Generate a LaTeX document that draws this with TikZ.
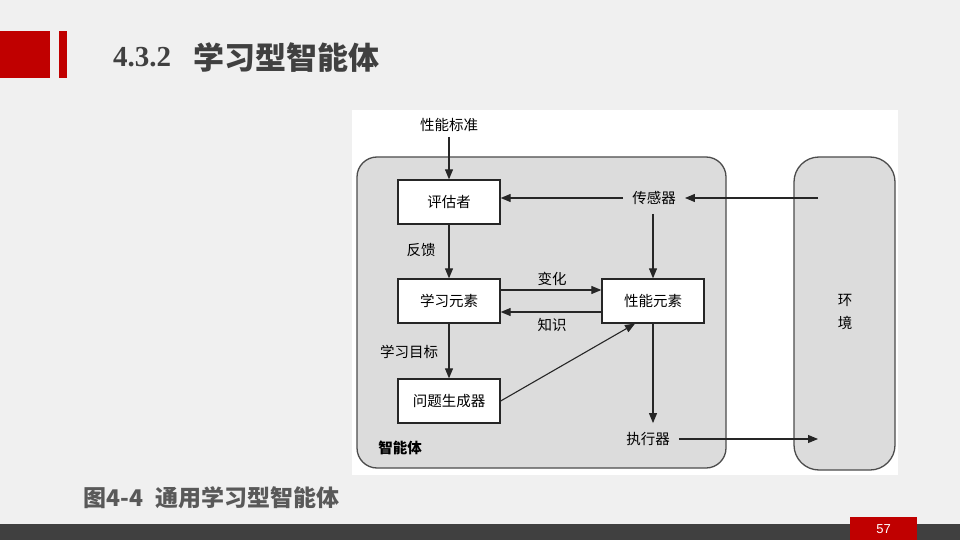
\documentclass[tikz,border=0pt]{standalone}
\usepackage{fontspec}
\setmainfont{Liberation Serif}
\setsansfont{Liberation Sans}
\newfontfamily\cjk{Noto Sans CJK SC}
\usepackage{tikz}
\usetikzlibrary{arrows.meta,positioning,calc}
\definecolor{SlideRed}{HTML}{C00000}
\definecolor{SlideInk}{HTML}{404040}
\definecolor{PageBg}{HTML}{F0F0F0}
\definecolor{PanelGray}{HTML}{DCDCDC}
\newcommand{\diagfont}{\cjk\fontsize{14.5}{17}\selectfont}

\tikzset{
  unit/.style={draw=black!85, line width=1.3pt, fill=white, minimum width=102pt, minimum height=44pt, inner sep=0pt, font=\diagfont},
  tag/.style={font=\diagfont, inner sep=9pt},
  note/.style={font=\diagfont, inner sep=0pt},
  arr/.style={-{Triangle[length=10pt,width=8pt]}, draw=black!85, line width=1.1pt},
  panel/.style={draw=black!70, line width=1.3pt, fill=PanelGray, inner sep=0pt},
}

\begin{document}
\begin{tikzpicture}[x=1pt,y=-1pt]
    % slide background
    \fill[PageBg] (0,0) rectangle (960,540);
    \useasboundingbox (0,0) rectangle (960,540);
    \fill[SlideRed] (0,31) rectangle (50,78);
    \fill[SlideRed] (59,31) rectangle (67,78);
    \node[anchor=base west, inner sep=0pt, text=SlideInk, font=\fontsize{29}{32}\selectfont\bfseries] (secnum) at (113,67) {4.3.2};
    \node[anchor=west, inner sep=0pt, text=SlideInk, font=\cjk\fontsize{31}{34}\selectfont\bfseries] (sectitle) at (193,58) {学习型智能体};

    % figure panel
    \fill[white] (352,110) rectangle (898,475);
    \node[panel, rounded corners=20pt, minimum width=369pt, minimum height=311pt] (agent) at (541.5,312.5) {};
    \node[panel, rounded corners=25pt, minimum width=101pt, minimum height=313pt] (env) at (844.5,313.5) {};
    \node[note, align=center, font=\cjk\fontsize{14.5}{23}\selectfont] (envtxt) at (845,312) {环\\境};

    % agent parts
    \node[unit] (eval) at (449,202) {评估者};
    \node[unit] (learn) at (449,301) {学习元素};
    \node[unit] (perf) at (653,301) {性能元素};
    \node[unit] (prob) at (449,401) {问题生成器};
    \node[tag, inner sep=5pt] (std) at (449,125) {性能标准};
    \node[tag] (sensor) at (654,198) {传感器};
    \node[tag] (act) at (648,439) {执行器};
    \node[note, font=\cjk\fontsize{14.5}{17}\selectfont\bfseries] (agentname) at (400,448) {智能体};

    \coordinate (envin) at (818,198);
    \coordinate (envout) at (818,439);

    % connectors
    \draw[arr] (std) -- (eval);
    \draw[arr] (envin) -- (sensor.east);
    \draw[arr] (sensor.west) -- (sensor.west -| eval.east);
    \draw[arr] (sensor.south -| perf.north) -- (perf.north);
    \draw[arr] (eval) -- (learn);
    \draw[arr] ([yshift=11pt]learn.east) -- ([yshift=11pt]perf.west);
    \draw[arr] ([yshift=-11pt]perf.west) -- ([yshift=-11pt]learn.east);
    \draw[arr] (learn) -- (prob);
    \draw[arr] (prob.east) -- ([xshift=-18pt]perf.south);
    \draw[arr] (perf.south) -- (perf.south |- act.north);
    \draw[arr] (act.east) -- (act.east -| envout);

    % connector labels
    \node[note] (fb) at (421,250) {反馈};
    \node[note] (chg) at (552,279) {变化};
    \node[note] (know) at (552,325) {知识};
    \node[note] (goal) at (409,352) {学习目标};

    % caption and footer
    \node[anchor=west, inner sep=0pt, text=black!65, font=\cjk\fontsize{23}{26}\selectfont\bfseries] (caption) at (83,498) {图4-4\hspace{12pt}通用学习型智能体};
    \fill[SlideInk] (0,524) rectangle (960,540);
    \fill[SlideRed] (850,517) rectangle (917,540);
    \node[text=white, inner sep=0pt, font=\sffamily\fontsize{13}{15}\selectfont] (pageno) at (883.5,529) {57};
\end{tikzpicture}
\end{document}
